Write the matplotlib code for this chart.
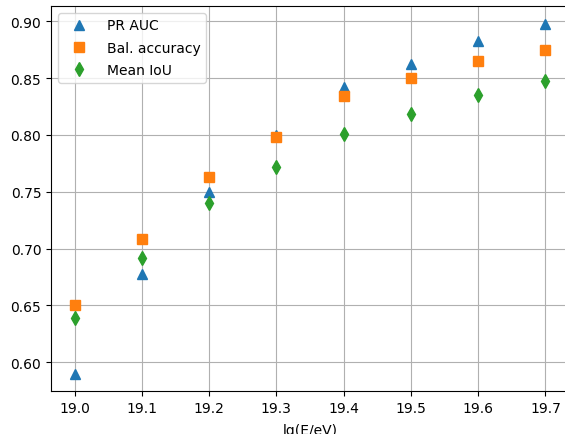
import matplotlib
matplotlib.use("Agg")
import matplotlib.pyplot as plt

energy = [19.0, 19.1, 19.2, 19.3, 19.4, 19.5, 19.6, 19.7]
pr_auc = [0.590, 0.678, 0.750, 0.800, 0.842, 0.862, 0.883, 0.898]
bal_acc = [0.650, 0.708, 0.763, 0.798, 0.834, 0.850, 0.865, 0.875]
mean_iou = [0.639, 0.692, 0.740, 0.772, 0.801, 0.818, 0.835, 0.847]

fig = plt.figure(figsize=(5.65, 4.35), dpi=100)
ax = fig.add_axes([51/565, 43/435, 518/565, 385/435])
ax.plot(energy, pr_auc, '^', color='#1f77b4', markersize=7, label='PR AUC')
ax.plot(energy, bal_acc, 's', color='#ff7f0e', markersize=7, label='Bal. accuracy')
ax.plot(energy, mean_iou, 'd', color='#2ca02c', markersize=7, label='Mean IoU')
ax.set_xlim(18.965, 19.735)
ax.set_ylim(0.5746, 0.9134)
ax.set_xticks(energy)
ax.set_xticklabels([f"{e:.1f}" for e in energy])
ax.set_yticks([0.60, 0.65, 0.70, 0.75, 0.80, 0.85, 0.90])
ax.set_yticklabels(["0.60", "0.65", "0.70", "0.75", "0.80", "0.85", "0.90"])
ax.grid(True)
ax.set_axisbelow(True)
ax.set_xlabel('lg(E/eV)', labelpad=6)
ax.legend(loc='upper left', handlelength=2.3, labelspacing=0.6)
fig.savefig('out.png', dpi=100)
